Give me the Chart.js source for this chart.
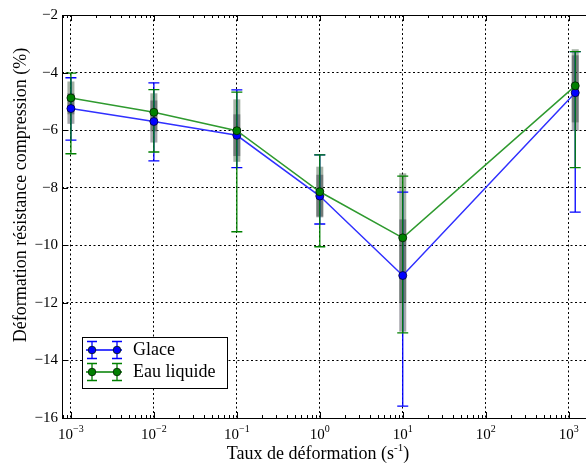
<!DOCTYPE html>
<html>
<head>
<meta charset="utf-8">
<script src="https://cdn.jsdelivr.net/npm/chart.js@4.4.1/dist/chart.umd.min.js"></script>
<style>
    html, body { margin: 0; padding: 0; background: #fff; overflow: hidden; }
    #cadre { width: 600px; height: 466px; }
</style>
</head>
<body>
<div id="cadre"><canvas id="graphique"></canvas></div>
<script>
// =========================================================
// DONNÉES
// =========================================================
const taux = [0.001, 0.01, 0.1, 1, 10, 1200];

// Moyennes
const glaceMoy = [-5.25, -5.70, -6.18, -8.29, -11.05, -4.70];
const eauMoy   = [-4.88, -5.38, -6.02, -8.14, -9.74, -4.46];

// Barres d'erreur (haut / bas)
const glaceHaut = [-4.18, -4.36, -4.60, -6.86, -8.15, -3.27];
const glaceBas  = [-6.35, -7.07, -7.30, -9.26, -15.59, -8.85];
const eauHaut   = [-4.02, -4.59, -4.68, -6.86, -7.60, -3.27];
const eauBas    = [-6.82, -6.76, -9.53, -10.05, -13.04, -7.30];

// Boîtes grises
const glaceBoiteHaut = [-4.72, -4.97, -5.45, -7.55, -9.10, -3.40];
const glaceBoiteBas  = [-5.78, -6.43, -6.90, -9.03, -13.00, -6.03];
const eauBoiteHaut   = [-4.31, -4.72, -4.93, -7.27, -7.50, -3.19];
const eauBoiteBas    = [-5.45, -6.04, -7.10, -9.00, -12.00, -5.73];

// Graduations
const ticksX = [1e-3, 1e-2, 1e-1, 1, 10, 100, 1000];
const exposantsX = ['−3', '−2', '−1', '0', '1', '2', '3'];
const ticksY = [-2, -4, -6, -8, -10, -12, -14, -16];

const BLEU = '#0000ff';
const VERT = '#008000';
const POLICE = '"Liberation Serif", "Times New Roman", serif';

// =========================================================
// PLUGIN : boîtes, barres d'erreur, cadre, textes
// =========================================================
function dessinerBoites(ctx, sx, sy, haut, bas, couleur) {
    ctx.fillStyle = couleur;
    taux.forEach((t, i) => {
        const x = sx.getPixelForValue(t);
        const y1 = sy.getPixelForValue(haut[i]);
        const y2 = sy.getPixelForValue(bas[i]);
        ctx.fillRect(x - 3.5, y1, 7, y2 - y1);
    });
}

function dessinerBarres(ctx, sx, sy, haut, bas, couleur) {
    ctx.strokeStyle = couleur;
    ctx.lineWidth = 1.3;
    taux.forEach((t, i) => {
        const x = sx.getPixelForValue(t);
        const y1 = sy.getPixelForValue(haut[i]);
        const y2 = sy.getPixelForValue(bas[i]);
        ctx.beginPath();
        ctx.moveTo(x, y1); ctx.lineTo(x, y2);
        ctx.moveTo(x - 5.5, y1); ctx.lineTo(x + 5.5, y1);
        ctx.moveTo(x - 5.5, y2); ctx.lineTo(x + 5.5, y2);
        ctx.stroke();
    });
}

function symboleLegende(ctx, y, couleur) {
    const xa = 92, xb = 117;
    ctx.strokeStyle = couleur;
    ctx.lineWidth = 1.3;
    ctx.beginPath();
    ctx.moveTo(86, y); ctx.lineTo(122, y);
    [xa, xb].forEach(x => {
        ctx.moveTo(x, y - 8.5); ctx.lineTo(x, y + 8.5);
        ctx.moveTo(x - 5, y - 8.5); ctx.lineTo(x + 5, y - 8.5);
        ctx.moveTo(x - 5, y + 8.5); ctx.lineTo(x + 5, y + 8.5);
    });
    ctx.stroke();
    ctx.fillStyle = couleur;
    ctx.strokeStyle = '#001a00';
    ctx.lineWidth = 0.8;
    [xa, xb].forEach(x => {
        ctx.beginPath();
        ctx.arc(x, y, 3.8, 0, Math.PI * 2);
        ctx.fill(); ctx.stroke();
    });
}

const pluginFigure = {
    id: 'figure',
    beforeDatasetsDraw(chart) {
        const { ctx, scales: { x: sx, y: sy } } = chart;
        ctx.save();
        dessinerBoites(ctx, sx, sy, eauBoiteHaut, eauBoiteBas, 'rgba(40, 70, 40, 0.42)');
        dessinerBoites(ctx, sx, sy, glaceBoiteHaut, glaceBoiteBas, 'rgba(45, 45, 60, 0.42)');
        dessinerBarres(ctx, sx, sy, glaceHaut, glaceBas, BLEU);
        dessinerBarres(ctx, sx, sy, eauHaut, eauBas, VERT);
        ctx.restore();
    },
    afterDraw(chart) {
        const { ctx, chartArea: a, scales: { x: sx, y: sy } } = chart;
        ctx.save();

        // Cadre
        ctx.strokeStyle = '#000';
        ctx.lineWidth = 1;
        ctx.strokeRect(Math.round(a.left) + 0.5, Math.round(a.top) + 0.5,
                       Math.round(a.right - a.left), Math.round(a.bottom - a.top));

        // Graduations x (majeures + mineures, vers l'intérieur)
        ctx.beginPath();
        for (let d = -4; d <= 3; d++) {
            for (let k = 1; k <= 9; k++) {
                const v = k * Math.pow(10, d);
                if (v < sx.min || v > sx.max) continue;
                const x = Math.round(sx.getPixelForValue(v)) + 0.5;
                const l = k === 1 ? 6 : 3;
                ctx.moveTo(x, a.bottom); ctx.lineTo(x, a.bottom - l);
                ctx.moveTo(x, a.top); ctx.lineTo(x, a.top + l);
            }
        }
        // Graduations y
        ticksY.forEach(v => {
            const y = Math.round(sy.getPixelForValue(v)) + 0.5;
            ctx.moveTo(a.left, y); ctx.lineTo(a.left + 6, y);
        });
        ctx.stroke();

        // Étiquettes x : 10 puissance n
        ctx.fillStyle = '#000';
        ctx.textAlign = 'left';
        ctx.textBaseline = 'alphabetic';
        ticksX.forEach((v, i) => {
            const px = sx.getPixelForValue(v);
            ctx.font = '15px ' + POLICE;
            const wBase = ctx.measureText('10').width;
            ctx.font = '10px ' + POLICE;
            const wExp = ctx.measureText(exposantsX[i]).width;
            const x0 = px - (wBase + wExp) / 2;
            ctx.font = '15px ' + POLICE;
            ctx.fillText('10', x0, 439);
            ctx.font = '10px ' + POLICE;
            ctx.fillText(exposantsX[i], x0 + wBase, 432);
        });

        // Titre de l'axe x
        const t1 = 'Taux de déformation (s', t2 = '-1', t3 = ')';
        ctx.font = '18px ' + POLICE;
        const w1 = ctx.measureText(t1).width, w3 = ctx.measureText(t3).width;
        ctx.font = '11px ' + POLICE;
        const w2 = ctx.measureText(t2).width;
        let xt = 318 - (w1 + w2 + w3) / 2;
        ctx.font = '18px ' + POLICE;
        ctx.fillText(t1, xt, 459);
        ctx.font = '11px ' + POLICE;
        ctx.fillText(t2, xt + w1, 451);
        ctx.font = '18px ' + POLICE;
        ctx.fillText(t3, xt + w1 + w2, 459);

        // Titre de l'axe y
        ctx.save();
        ctx.translate(21, 195);
        ctx.rotate(-Math.PI / 2);
        ctx.textAlign = 'center';
        ctx.textBaseline = 'middle';
        ctx.font = '18px ' + POLICE;
        ctx.fillText('Déformation résistance compression (%)', 0, 0);
        ctx.restore();

        // Légende
        ctx.fillStyle = '#fff';
        ctx.fillRect(82, 337, 145, 51);
        ctx.strokeStyle = '#000';
        ctx.lineWidth = 1;
        ctx.strokeRect(82.5, 337.5, 145, 51);
        symboleLegende(ctx, 350, BLEU);
        symboleLegende(ctx, 372, VERT);
        ctx.fillStyle = '#000';
        ctx.font = '18px ' + POLICE;
        ctx.textAlign = 'left';
        ctx.textBaseline = 'middle';
        ctx.fillText('Glace', 133, 350);
        ctx.fillText('Eau liquide', 133, 372);

        ctx.restore();
    }
};

// =========================================================
// GRAPHIQUE
// =========================================================
const serie = (valeurs) => taux.map((t, i) => ({ x: t, y: valeurs[i] }));

new Chart(document.getElementById('graphique'), {
    type: 'line',
    data: {
        datasets: [
            {
                label: 'Glace', data: serie(glaceMoy), order: 1,
                borderColor: '#3030ff', borderWidth: 1.5,
                pointRadius: 4, pointBackgroundColor: BLEU,
                pointBorderColor: '#000033', pointBorderWidth: 0.8
            },
            {
                label: 'Eau liquide', data: serie(eauMoy), order: 0,
                borderColor: '#2f9a2f', borderWidth: 1.5,
                pointRadius: 4, pointBackgroundColor: VERT,
                pointBorderColor: '#001a00', pointBorderWidth: 0.8
            }
        ]
    },
    options: {
        responsive: true,
        maintainAspectRatio: false,
        animation: false,
        layout: { padding: { top: 15, left: 0, right: 0, bottom: 0 } },
        plugins: { legend: { display: false }, tooltip: { enabled: false } },
        scales: {
            x: {
                type: 'logarithmic',
                min: Math.pow(10, -3.1075),
                max: Math.pow(10, 3.32),
                afterBuildTicks: (s) => { s.ticks = ticksX.map(v => ({ value: v, major: true })); },
                afterFit: (s) => { s.height = 48; },
                ticks: { display: false },
                grid: { color: '#000', lineWidth: 1, drawTicks: false },
                border: { display: false, dash: [2, 2.5] }
            },
            y: {
                min: -16,
                max: -2,
                afterBuildTicks: (s) => { s.ticks = ticksY.map(v => ({ value: v })); },
                afterFit: (s) => { s.width = 62; },
                ticks: {
                    color: '#000',
                    padding: 4,
                    font: { family: POLICE, size: 15 },
                    callback: (v) => (v < 0 ? '−' : '') + Math.abs(v)
                },
                grid: { color: '#000', lineWidth: 1, drawTicks: false },
                border: { display: false, dash: [2, 2.5] }
            }
        }
    },
    plugins: [pluginFigure]
});
</script>
</body>
</html>
